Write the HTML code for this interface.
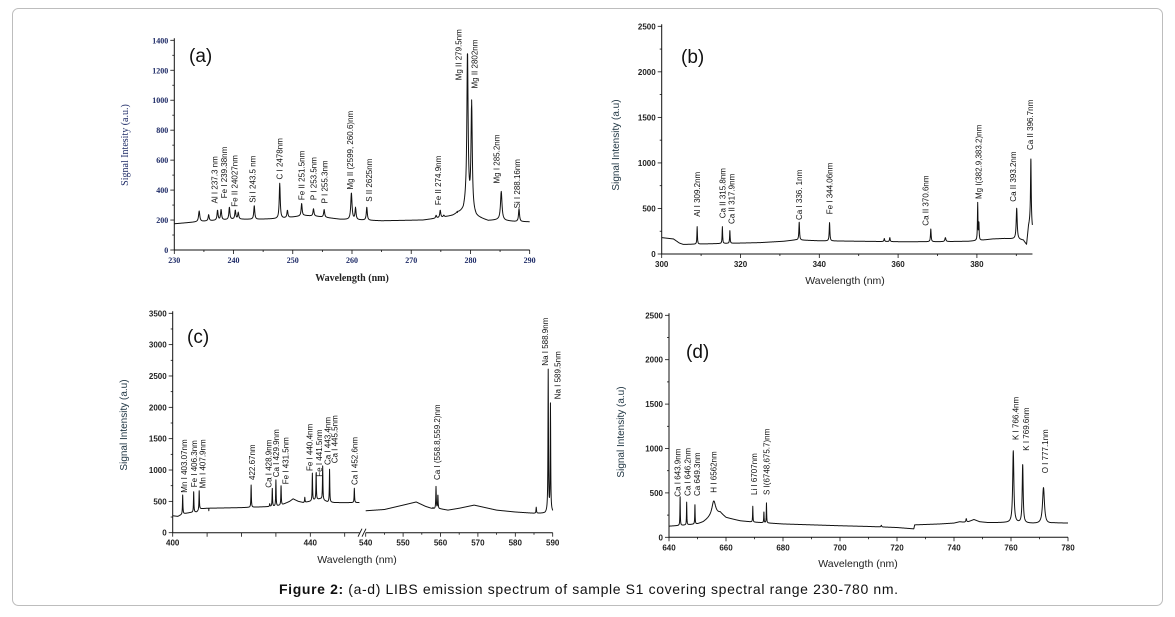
<!DOCTYPE html>
<html><head><meta charset="utf-8"><style>
html,body{margin:0;padding:0;background:#fff;}
svg{display:block;font-family:"Liberation Sans",sans-serif;}
</style></head><body>
<svg id="fig" width="1175" height="617" viewBox="0 0 1175 617" xmlns="http://www.w3.org/2000/svg">
<rect x="12.5" y="8.5" width="1150" height="597" rx="6" fill="#fff" stroke="#bdbdbd"/>
<text x="279" y="594" font-size="14" textLength="619" fill="#111"><tspan font-weight="bold">Figure 2:</tspan> (a-d) LIBS emission spectrum of sample S1 covering spectral range 230-780 nm.</text>
</svg>
<script>
// ---------- DATA ----------
// Panel (a)
const aBaseW=[230,233,236,240,244,248,250,252,254,258,265,272,275,277,278.8,279.2,281,283,284.6,286,287.5,290];
const aBaseV=[175,185,195,205,205,210,220,230,225,205,195,200,215,230,260,300,220,195,200,195,190,188];
const aPeakW=[234.2,235.8,237.3,237.9,239.3,240.3,240.8,243.5,247.8,249.1,251.5,253.5,255.3,259.9,260.6,262.5,274.2,274.9,275.5,277.8,279.5,280.2,285.2,288.2];
const aPeakV=[260,235,265,270,285,265,250,295,445,265,310,275,270,380,280,285,230,265,230,250,1310,970,390,275];
const aPeakWd=[0.25,0.2,0.2,0.2,0.2,0.2,0.2,0.2,0.2,0.2,0.2,0.2,0.2,0.25,0.2,0.2,0.2,0.2,0.2,0.4,0.25,0.25,0.3,0.2];
const aLabT=["Al I 237.3 nm","Fe I 239.38nm","Fe II 24027nm","Si I 243.5 nm","C I 2478nm","Fe II 251.5nm","P I 253.5nm","P I 255.3nm","Mg II (2599, 260.6)nm","S II 2625nm","Fe II 274.9nm","Mg II 279.5nm","Mg II 2802nm","Mg I 285.2nm","Si I 288.16nm"];
const aLabW=[236.8,238.4,240.2,243.2,247.8,251.5,253.5,255.4,259.7,262.9,274.5,278.0,280.65,284.4,287.9];
const aLabV=[311,345,289,315,471,333,333,311,404,322,300,1133,1078,444,278];
// Panel (b)
const bBaseW=[300,303,304.5,305.5,315,325,331,334,340,350,360,370,378,381,384,387,390,391.8,392.6,393.1,393.6,394.1];
const bBaseV=[180,165,120,105,115,125,140,155,145,140,135,135,140,150,165,170,165,150,100,300,380,270];
const bPeakW=[309.0,315.4,317.3,334.9,342.6,356.5,357.9,368.3,372,380.2,380.5,390.1,393.7];
const bPeakV=[300,300,256,348,345,170,180,274,180,556,340,502,1043];
const bPeakWd=[0.15,0.15,0.15,0.2,0.2,0.2,0.2,0.2,0.3,0.15,0.15,0.3,0.2];
const bLabT=["Al I 309.2nm","Ca II 315.8nm","Ca II 317.9nm","Ca I 336. 1nm","Fe I 344.06nm","Ca II 370.6nm","Mg I(382.9,383.2)nm","Ca II 393.2nm","Ca II 396.7nm"];
const bLabW=[309.0,315.4,317.7,334.9,342.6,366.9,380.4,389.2,393.5];
const bLabV=[410,392,329,373,436,311,604,574,1142];
// Panel (c) left segment
const cLBaseW=[400,401.5,403,405,407,408,410,415,420,425,430,432,434,435,436.5,438,440,441,443,445,447,450,454.3];
const cLBaseV=[270,260,300,320,330,380,390,395,400,410,420,450,500,540,500,480,500,520,540,490,480,480,480];
const cLPeakW=[402.9,406.1,407.7,410.5,422.8,428.2,428.95,430.0,431.5,438.4,440.6,441.7,443.6,445.6,452.8];
const cLPeakV=[601,654,670,350,761,460,708,840,750,565,947,957,1064,1011,708];
// Panel (c) right segment
const cRBaseW=[540,545,550,553.5,556,558,560,562,565,569,572,575,580,585,588,588.5,589.9,590];
const cRBaseV=[350,370,440,490,420,380,380,360,390,440,400,360,330,310,310,330,330,320];
const cRPeakW=[558.0,558.8,559.3,585.6,588.8,589.4];
const cRPeakV=[400,734,600,405,2584,2037];
const cLabT=["Mn I 403.07nm","Fe I 406.3nm","Mn I 407.9nm","422.67nm","Ca I 428.9nm","Ca I 429.9nm","Fe I 431.5nm","Fe I 440.4nm","Fe I 441.5nm","Ca I 443.4nm","Ca I 445.5nm","Ca I 452.6nm"];
const cLabW=[403.3,406.2,408.6,423.0,427.9,430.0,432.8,439.8,442.6,445.0,447.0,452.8];
const cLabV=[638,724,708,840,718,883,772,984,893,1080,1107,761];
const cRLabT=["Ca I (558.8,559.2)nm","Na I 588.9nm","Na I 589.5nm"];
const cRLabW=[559.0,588.0,591.3];
const cRLabV=[840,2664,2128];
// Panel (d)
const dBaseW=[640,645,650,652,654,658,660,665,670,680,690,700,710,720,725.9,726.2,735,740,742,743.5,745,747,749,752,758,772.5,775,780];
const dBaseV=[125,135,150,170,210,270,220,185,170,150,140,130,122,110,95,140,150,160,175,170,175,200,175,165,165,150,160,160];
const dPeakW=[643.9,646.2,649.1,655.7,669.4,673.3,674.2,714.5,744.3,760.8,764.1,771.4];
const dPeakV=[457,394,367,409,349,285,386,135,210,972,818,559];
const dPeakWd=[0.15,0.15,0.15,1.6,0.15,0.15,0.15,0.3,0.3,0.5,0.4,0.8];
const dLabT=["Ca I 643.9nm","Ca I 646.2nm","Ca 649.3nm","H I 6562nm","Li I 6707nm","S I(6748,675.7)nm","K I 766.4nm","K I 769.6nm","O I 777.1nm"];
const dLabW=[643.0,646.5,649.8,655.7,669.9,674.2,761.5,765.2,772.0];
const dLabV=[457,465,465,502,476,476,1096,975,721];

// ---------- RENDER ----------
const NS="http://www.w3.org/2000/svg";
const svg=document.getElementById('fig');
function mk(tag,attrs,parent){const e=document.createElementNS(NS,tag);for(const k in attrs)e.setAttribute(k,attrs[k]);(parent||svg).appendChild(e);return e;}
function interp(ws,vs,w){if(w<=ws[0])return vs[0];for(let i=1;i<ws.length;i++){if(w<=ws[i]){const t=(w-ws[i-1])/(ws[i]-ws[i-1]);return vs[i-1]+t*(vs[i]-vs[i-1]);}}return vs[vs.length-1];}
function spectrum(bw,bv,pw,pv,pwd,wmin,wmax,step){
  const pts=[];
  for(let w=wmin;w<=wmax+1e-9;w+=step){
    const base=interp(bw,bv,w);let v=base;
    for(let i=0;i<pw.length;i++){const hw=(pwd?pwd[i]:0.15)/2;const d=(w-pw[i])/hw;const b0=interp(bw,bv,pw[i]);v+=Math.max(0,pv[i]-b0)/(1+d*d);}
    pts.push([w,v]);
  }
  for(let i=0;i<pw.length;i++){if(pw[i]>=wmin&&pw[i]<=wmax)pts.push([pw[i],pv[i]]);}
  pts.sort((a,b)=>a[0]-b[0]);
  return pts;
}
function makeAxes(P){
  const g=mk('g',{});
  
  
  return g;
}
function yScale(P,v){return P.y0-(v/P.vmax)*(P.y0-P.yTop);}
function drawPanel(P){
  const g=makeAxes(P);
  const tf=P.serif?'"Liberation Serif",serif':'"Liberation Sans",sans-serif';
  const tcol=P.serif?'#1d2a66':'#222';
  const ya=mk('line',{x1:P.ax,y1:P.y0,x2:P.ax,y2:P.yTop-2,stroke:'#111','stroke-width':1},g);
  
  
  for(let v=0;v<=P.vmax+1e-6;v+=P.yMinor){
    const y=yScale(P,v);const major=Math.abs(v/P.yStep-Math.round(v/P.yStep))<1e-6;
    mk('line',{x1:P.ax-(major?4:2),y1:y,x2:P.ax,y2:y,stroke:'#111','stroke-width':0.8},g);
    if(major){const t=mk('text',{x:P.ax-6,y:y+3,'font-size':8,'font-weight':'bold','text-anchor':'end',fill:tcol,'font-family':tf},g);t.textContent=v;
      
      }
  }
  P.segs.forEach((S,si)=>{
    const xa=mk('line',{x1:S.px0,y1:P.y0,x2:S.px0+(S.wmax-S.wmin)*S.k,y2:P.y0,stroke:'#111','stroke-width':1},g);
    
    
    for(let w=S.tick0;w<=S.wmax+1e-6;w+=S.minor){
      const x=S.px0+(w-S.wmin)*S.k;const major=S.labels.some(l=>Math.abs(l-w)<1e-6)||Math.abs(((w-S.tick0)/S.major)-Math.round((w-S.tick0)/S.major))<1e-6;
      mk('line',{x1:x,y1:P.y0,x2:x,y2:P.y0+(major?4:2),stroke:'#111','stroke-width':0.8},g);
    }
    S.labels.forEach(l=>{const x=S.px0+(l-S.wmin)*S.k;const t=mk('text',{x:x,y:P.y0+13,'font-size':8,'font-weight':'bold','text-anchor':'middle',fill:tcol,'font-family':tf},g);t.textContent=l;
      
      });
    const pts=spectrum(S.bw,S.bv,S.pw,S.pv,S.pwd,S.wmin,S.wmax,0.04);
    let d='';pts.forEach((p,i)=>{const x=S.px0+(p[0]-S.wmin)*S.k;d+=(i?'L':'M')+x.toFixed(2)+' '+yScale(P,p[1]).toFixed(2);});
    const path=mk('path',{d:d,fill:'none',stroke:'#111','stroke-width':1,'stroke-linejoin':'round'},g);
    
    
    for(let i=0;i<S.lt.length;i++){
      const x=S.px0+(S.lw[i]-S.wmin)*S.k+3;const y=yScale(P,S.lv[i]);
      const t=mk('text',{x:0,y:0,transform:'translate('+x.toFixed(1)+','+y.toFixed(1)+') rotate(-90)','font-size':8,fill:'#111'},g);
      t.textContent=S.lt[i];
      
      
    }
  });
  if(P.brk){const b=mk('path',{d:'M'+(P.brk-4)+' '+(P.y0+4)+'L'+(P.brk)+' '+(P.y0-4)+'M'+(P.brk)+' '+(P.y0+4)+'L'+(P.brk+4)+' '+(P.y0-4),stroke:'#111','stroke-width':0.9,fill:'none'},g);
    
    }
  const xt=mk('text',{x:P.xtx,y:P.xty,'font-size':P.serif?10:10.5,'font-weight':P.serif?'bold':'normal','text-anchor':'middle',fill:'#222','font-family':tf},g);
  xt.textContent='Wavelength (nm)';
  
  
  const yt=mk('text',{x:0,y:0,transform:'translate('+P.ytx+','+P.yty+') rotate(-90)','font-size':10,'text-anchor':'middle',fill:P.serif?'#1d2a66':'#1d3340','font-family':tf},g);
  yt.textContent=P.ytitle;
  
  
  const pl=mk('text',{x:P.lx,y:P.ly,'font-size':19,fill:'#111'},g);
  pl.textContent=P.letter;
  
  
}

drawPanel({name:'panel-a',serif:true,ax:174.3,y0:250,yTop:40.3,vmax:1400,yStep:200,yMinor:100,
  xtx:352,xty:281,ytx:128,yty:145,ytitle:'Signal Intesity (a.u.)',letter:'(a)',lx:189,ly:62,
  segs:[{wmin:230,wmax:290,px0:174.3,k:5.923,tick0:230,major:10,minor:5,labels:[230,240,250,260,270,280,290],
    bw:aBaseW,bv:aBaseV,pw:aPeakW,pv:aPeakV,pwd:aPeakWd,lt:aLabT,lw:aLabW,lv:aLabV}]});
drawPanel({name:'panel-b',ax:661.7,y0:254,yTop:26.3,vmax:2500,yStep:500,yMinor:250,
  xtx:845,xty:284,ytx:619,yty:145,ytitle:'Signal Intensity (a.u)',letter:'(b)',lx:681,ly:63,
  segs:[{wmin:300,wmax:394.1,px0:661.7,k:3.94,tick0:300,major:20,minor:10,labels:[300,320,340,360,380],
    bw:bBaseW,bv:bBaseV,pw:bPeakW,pv:bPeakV,pwd:bPeakWd,lt:bLabT,lw:bLabW,lv:bLabV}]});
drawPanel({name:'panel-c',ax:172.7,y0:532.7,yTop:313.3,vmax:3500,yStep:500,yMinor:250,brk:362,
  xtx:357,xty:563,ytx:127,yty:425,ytitle:'Signal Intensity (a.u)',letter:'(c)',lx:187,ly:343,
  segs:[{wmin:400,wmax:454.3,px0:172.7,k:3.44,tick0:400,major:10,minor:10,labels:[400,440],
    bw:cLBaseW,bv:cLBaseV,pw:cLPeakW,pv:cLPeakV,pwd:null,lt:cLabT,lw:cLabW,lv:cLabV},
   {wmin:540,wmax:590,px0:365.7,k:3.74,tick0:540,major:10,minor:5,labels:[540,550,560,570,580,590],
    bw:cRBaseW,bv:cRBaseV,pw:cRPeakW,pv:cRPeakV,pwd:null,lt:cRLabT,lw:cRLabW,lv:cRLabV}]});
drawPanel({name:'panel-d',ax:669,y0:537.3,yTop:315.3,vmax:2500,yStep:500,yMinor:250,
  xtx:858,xty:567,ytx:624,yty:432,ytitle:'Signal Intensity (a.u)',letter:'(d)',lx:686,ly:358,
  segs:[{wmin:640,wmax:780,px0:669,k:2.85,tick0:640,major:20,minor:10,labels:[640,660,680,700,720,740,760,780],
    bw:dBaseW,bv:dBaseV,pw:dPeakW,pv:dPeakV,pwd:dPeakWd,lt:dLabT,lw:dLabW,lv:dLabV}]});
</script>
</body></html>
